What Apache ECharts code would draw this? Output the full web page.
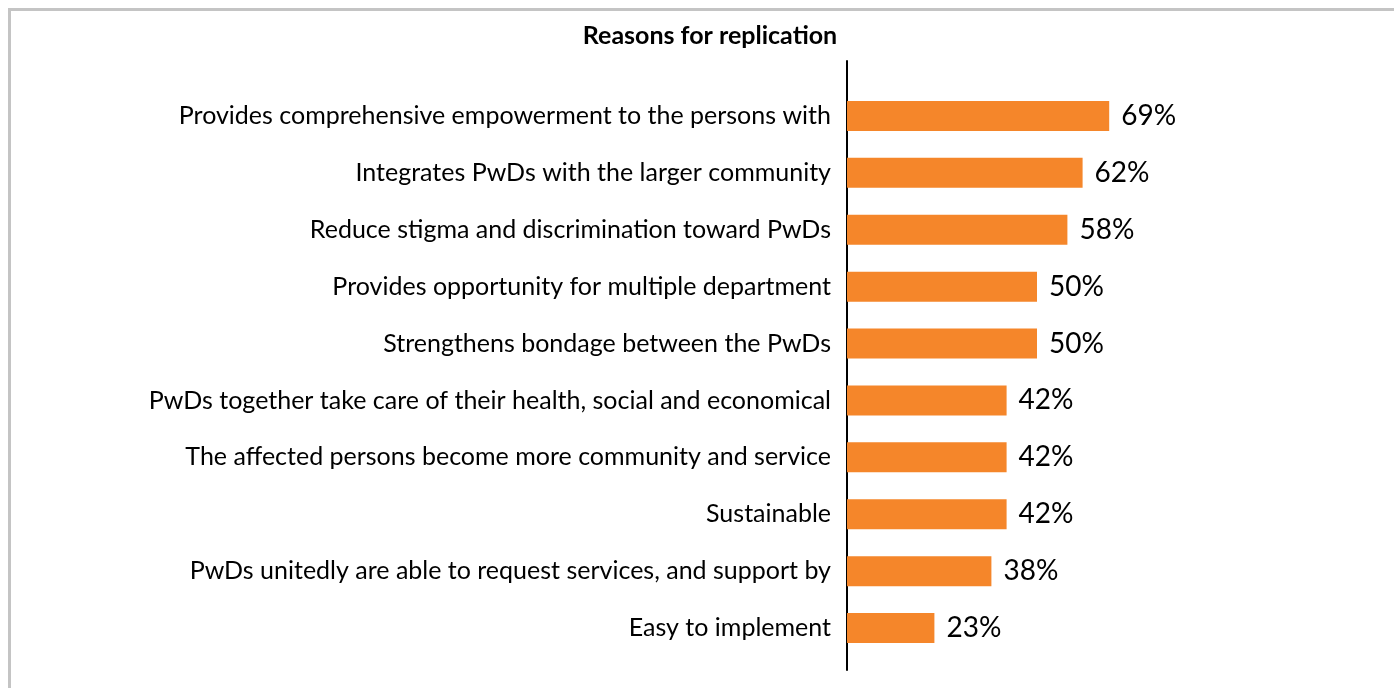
<!DOCTYPE html>
<html>
<head>
<meta charset="utf-8">
<title>Reasons for replication</title>
<script src="https://cdn.jsdelivr.net/npm/echarts@6/dist/echarts.min.js"></script>
<style>
  html, body { margin: 0; padding: 0; background: #fff; }
  #chart { width: 1394px; height: 688px; }
</style>
</head>
<body>
<div id="chart"></div>
<script>
// Survey answers: why respondents would replicate the approach
const reasons = [
  'Provides comprehensive empowerment to the persons with',
  'Integrates PwDs with the larger community',
  'Reduce stigma and discrimination toward PwDs',
  'Provides opportunity for multiple department',
  'Strengthens bondage between the PwDs',
  'PwDs together take care of their health, social and economical',
  'The affected persons become more community and service',
  'Sustainable',
  'PwDs unitedly are able to request services, and support by',
  'Easy to implement'
];
const sharePercent = [69, 62, 58, 50, 50, 42, 42, 42, 38, 23];
const titleText = 'Reasons for replication';

const FONT = 'Lato, "Open Sans", sans-serif';

const chart = echarts.init(document.getElementById('chart'), null, { renderer: 'canvas' });

chart.setOption({
  backgroundColor: '#ffffff',
  animation: false,
  title: {
    text: titleText,
    left: 705,
    top: 18,
    textAlign: 'center',
    textStyle: { fontFamily: FONT, fontWeight: 'bold', fontSize: 25, color: '#000' }
  },
  graphic: [{
    type: 'rect',
    silent: true,
    shape: { x: 9.5, y: 9.5, width: 1420, height: 720 },
    style: { fill: 'none', stroke: '#c4c4c4', lineWidth: 3 }
  }],
  grid: [
    // plot area holding the bars
    { left: 847, top: 87.5, width: 380, height: 569, containLabel: false },
    // taller frame that only carries the vertical axis line
    { left: 847, top: 61, width: 380, height: 609, containLabel: false }
  ],
  xAxis: [
    { type: 'value', gridIndex: 0, min: 0, max: 100, show: false },
    { type: 'value', gridIndex: 1, min: 0, max: 100, show: false }
  ],
  yAxis: [
    {
      type: 'category',
      gridIndex: 0,
      data: reasons,
      inverse: true,
      axisLine: { show: false },
      axisTick: { show: false },
      axisLabel: {
        margin: 16,
        fontFamily: FONT,
        fontSize: 25,
        color: '#000'
      }
    },
    {
      type: 'category',
      gridIndex: 1,
      data: [''],
      axisLine: { show: true, lineStyle: { color: '#000', width: 2 } },
      axisTick: { show: false },
      axisLabel: { show: false }
    }
  ],
  series: [{
    type: 'bar',
    xAxisIndex: 0,
    yAxisIndex: 0,
    data: sharePercent,
    barWidth: 30,
    itemStyle: { color: '#F5862A' },
    label: {
      show: true,
      position: 'right',
      distance: 12,
      formatter: p => p.value + '%',
      fontFamily: FONT,
      fontSize: 28,
      color: '#000'
    }
  }]
});
</script>
</body>
</html>
